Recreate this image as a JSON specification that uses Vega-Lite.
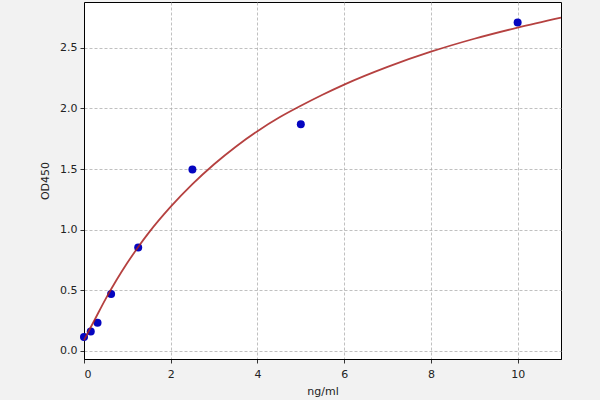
{
  "$schema": "https://vega.github.io/schema/vega-lite/v6.json",
  "width": 477,
  "height": 357,
  "autosize": "none",
  "padding": {"left": 84, "top": 2, "right": 39, "bottom": 41},
  "background": "#f2f2f2",
  "datasets": {
    "standards": [
      {"conc": 0, "od": 0.115},
      {"conc": 0.156, "od": 0.16},
      {"conc": 0.312, "od": 0.233},
      {"conc": 0.625, "od": 0.469},
      {"conc": 1.25, "od": 0.853},
      {"conc": 2.5, "od": 1.497},
      {"conc": 5, "od": 1.869},
      {"conc": 10, "od": 2.708}
    ],
    "fit": [
      {"conc": 0, "od": 0.09},
      {"conc": 0.25, "od": 0.26},
      {"conc": 0.5, "od": 0.43},
      {"conc": 0.75, "od": 0.585},
      {"conc": 1, "od": 0.727},
      {"conc": 1.25, "od": 0.858},
      {"conc": 1.5, "od": 0.978},
      {"conc": 2, "od": 1.19},
      {"conc": 2.5, "od": 1.376},
      {"conc": 3, "od": 1.54},
      {"conc": 3.5, "od": 1.685},
      {"conc": 4, "od": 1.813},
      {"conc": 4.5, "od": 1.925},
      {"conc": 5, "od": 2.022},
      {"conc": 5.5, "od": 2.113},
      {"conc": 6, "od": 2.197},
      {"conc": 7, "od": 2.343},
      {"conc": 8, "od": 2.468},
      {"conc": 9, "od": 2.575},
      {"conc": 10, "od": 2.667},
      {"conc": 11, "od": 2.749}
    ]
  },
  "encoding": {
    "x": {
      "field": "conc",
      "type": "quantitative",
      "title": "ng/ml",
      "scale": {"domain": [0, 11], "nice": false, "zero": false},
      "axis": {"values": [0, 2, 4, 6, 8, 10], "format": "d"}
    },
    "y": {
      "field": "od",
      "type": "quantitative",
      "title": "OD450",
      "scale": {"domain": [-0.066, 2.878], "nice": false, "zero": false},
      "axis": {"values": [0, 0.5, 1, 1.5, 2, 2.5], "format": ".1f"}
    }
  },
  "layer": [
    {
      "data": {"name": "standards"},
      "mark": {"type": "circle", "size": 64, "color": "#0505c0", "opacity": 1}
    },
    {
      "data": {"name": "fit"},
      "mark": {
        "type": "line",
        "interpolate": "monotone",
        "color": "#a8201f",
        "strokeWidth": 1.8,
        "opacity": 0.85
      }
    }
  ],
  "config": {
    "font": "DejaVu Sans",
    "view": {"fill": "white", "stroke": "black", "strokeWidth": 1},
    "axis": {
      "labelFont": "DejaVu Sans",
      "titleFont": "DejaVu Sans",
      "labelFontSize": 11,
      "titleFontSize": 11,
      "titleFontWeight": "normal",
      "labelColor": "#222",
      "titleColor": "#222",
      "domainColor": "black",
      "tickColor": "#333",
      "tickSize": 4,
      "labelPadding": 3,
      "grid": true,
      "gridColor": "#b0b0b0",
      "gridDash": [3, 2],
      "gridWidth": 0.8
    },
    "axisX": {"labelPadding": 5, "titlePadding": 6},
    "axisY": {"titlePadding": 9}
  }
}
